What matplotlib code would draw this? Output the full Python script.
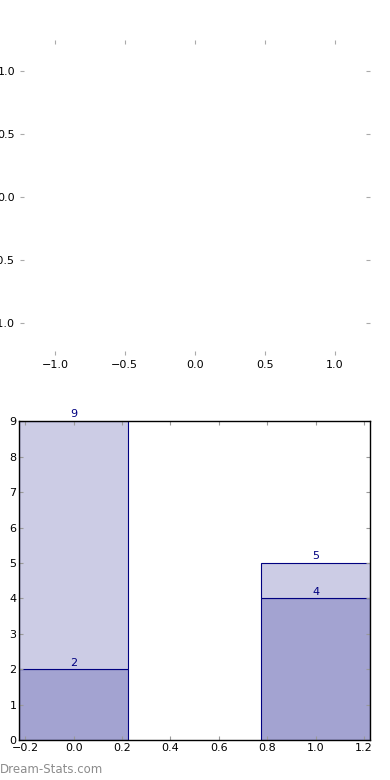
import matplotlib
matplotlib.use("Agg")
import matplotlib.pyplot as plt

positions = [0, 1]
lower_vals = [2, 4]
totals = [9, 5]
upper_vals = [t - l for t, l in zip(totals, lower_vals)]

light = "#ccccE5"
dark = "#a3a3d1"
edge = "navy"

plt.rcParams["font.size"] = 8
fig = plt.figure(figsize=(3.9, 7.8), dpi=100)

# empty top panel
ax1 = fig.add_axes([0.051, 0.545, 0.897, 0.404])
ax1.set_xlim(-1.25, 1.25)
ax1.set_ylim(-1.25, 1.25)
ax1.set_xticks([-1.0, -0.5, 0.0, 0.5, 1.0])
ax1.set_yticks([-1.0, -0.5, 0.0, 0.5, 1.0])
for s in ax1.spines.values():
    s.set_visible(False)
ax1.tick_params(direction="in", length=3, color="#aaaaaa", top=True, right=True, labelsize=8)

# stacked bars
ax2 = fig.add_axes([0.049, 0.051, 0.9, 0.409])
w = 0.45
ax2.bar(positions, lower_vals, width=w, color=dark, edgecolor=edge, linewidth=0.8)
ax2.bar(positions, upper_vals, width=w, bottom=lower_vals, color=light, edgecolor=edge, linewidth=0.8)
for x, l, t in zip(positions, lower_vals, totals):
    ax2.text(x, l + 0.05, str(l), ha="center", va="bottom", color=edge, fontsize=8)
    ax2.text(x, t + 0.05, str(t), ha="center", va="bottom", color=edge, fontsize=8)
ax2.set_xlim(-0.225, 1.225)
ax2.set_ylim(0, 9)
ax2.set_yticks(range(0, 10))
ax2.set_xticks([-0.2, 0.0, 0.2, 0.4, 0.6, 0.8, 1.0, 1.2])
ax2.tick_params(direction="in", length=3, color="#999999", top=True, right=True, labelsize=8, pad=2)
for s in ax2.spines.values():
    s.set_linewidth(1.0)

fig.text(0.0, 0.005, "Dream-Stats.com", color="#8c8c8c", fontsize=8.5, ha="left", va="bottom")

fig.savefig("out.png", dpi=100)
